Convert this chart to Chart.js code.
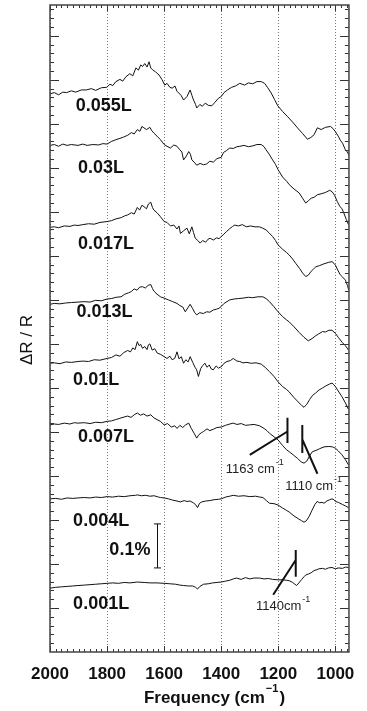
<!DOCTYPE html>
<html>
<head>
<meta charset="utf-8">
<script src="https://cdn.jsdelivr.net/npm/chart.js@4.4.0/dist/chart.umd.min.js"></script>
<style>
  html, body { margin: 0; padding: 0; background: #fff; }
  canvas { display: block; }
</style>
</head>
<body>
<canvas id="spectra" width="367" height="711" style="width:367px;height:711px"></canvas>
<script>
// exposures (Langmuir), top trace first
const exposures = ['0.055L', '0.03L', '0.017L', '0.013L', '0.01L', '0.007L', '0.004L', '0.001L'];

// vertical offset of each trace, in units of 0.01 % dR/R
const offsets = [126.8, 115.1, 96.5, 79.0, 65.6, 51.6, 34.8, 14.5];

// [wavenumber cm-1, dR/R change in 0.01 %]
const t055 = [[2000,0],[1985,0.3],[1970,-0.2],[1955,0.4],[1942,0.3],[1925,0.7],[1910,0.4],[1890,0.9],[1873,0.9],[1855,1.2],[1840,0.8],[1820,1.4],[1801,1.5],[1790,2.2],[1780,1.9],[1769,2.8],[1755,3.3],[1745,2.9],[1734,3.9],[1720,4.6],[1710,4.1],[1699,5.9],[1690,5.4],[1682,6.6],[1676,6.2],[1668,6.9],[1660,6.1],[1653,7.3],[1647,5.9],[1641,5.5],[1630,5.0],[1618,4.3],[1608,3.3],[1598,2.0],[1590,2.4],[1580,1.5],[1572,1.3],[1562,1.8],[1555,0.6],[1549,0.2],[1540,-0.4],[1532,-1.4],[1520,-0.6],[1509,0.9],[1503,-0.3],[1497,-1.4],[1490,-2.4],[1486,-3.2],[1475,-2.4],[1466,-2.8],[1456,-2.1],[1445,-2.6],[1433,-2.7],[1422,-1.9],[1410,-1.0],[1400,-0.6],[1390,0.3],[1378,0.9],[1364,1.5],[1350,1.8],[1335,2.4],[1318,2.0],[1305,2.5],[1290,2.3],[1275,2.8],[1260,2.8],[1248,2.4],[1237,1.4],[1225,0.2],[1213,-1.3],[1202,-2.7],[1185,-4.0],[1167,-5.2],[1150,-6.4],[1133,-7.7],[1115,-9.0],[1098,-10.3],[1086,-9.9],[1075,-9.3],[1063,-7.7],[1050,-8.1],[1035,-7.6],[1017,-7.4],[1008,-7.9],[1000,-8.6],[990,-9.6],[983,-10.5],[975,-11.2],[965,-12.7],[958,-13.2],[953,-13.9]];
const t03 = [[2000,0],[1985,0.2],[1970,-0.2],[1955,0.3],[1940,0],[1925,0.2],[1902,0],[1885,0.3],[1870,0],[1850,0.2],[1830,0.1],[1815,0.4],[1800,0.3],[1785,0.9],[1769,1.3],[1755,1.6],[1742,1.9],[1728,2.3],[1715,2.9],[1705,2.6],[1694,3.6],[1685,3.2],[1678,4.3],[1671,4.0],[1662,3.6],[1650,4.1],[1643,3.3],[1636,2.8],[1625,2.1],[1613,1.3],[1600,0.2],[1590,-0.2],[1578,-0.6],[1566,0.1],[1555,-0.2],[1545,-1.0],[1538,-1.5],[1532,-3.3],[1522,-2.4],[1514,-1.4],[1508,-2.0],[1503,-3.3],[1495,-3.8],[1486,-4.5],[1474,-4.1],[1462,-4.4],[1451,-4.2],[1440,-3.6],[1428,-3.8],[1415,-3.0],[1400,-2.7],[1392,-1.6],[1382,-1.2],[1370,-0.6],[1358,-0.7],[1345,-0.3],[1335,-0.2],[1320,0],[1305,-0.3],[1289,-0.1],[1275,0.2],[1260,0.2],[1250,-0.3],[1243,-1.0],[1232,-2.0],[1220,-3.3],[1210,-4.3],[1201,-5.5],[1185,-7.2],[1170,-8.2],[1162,-8.9],[1145,-9.9],[1127,-10.8],[1115,-12.0],[1104,-13.1],[1095,-12.6],[1085,-12.0],[1075,-11.8],[1063,-11.2],[1050,-11.0],[1035,-10.7],[1020,-10.2],[1012,-10.5],[1003,-11.3],[994,-12.7],[985,-13.8],[977,-14.4],[971,-15.3],[962,-16.8],[954,-18.0]];
const t017 = [[2000,0],[1985,0.1],[1970,-0.1],[1950,0.3],[1930,0.2],[1915,0.5],[1902,0.4],[1885,0.6],[1865,0.8],[1845,0.7],[1825,1.1],[1800,1.3],[1785,1.5],[1769,1.9],[1750,2.2],[1738,2.6],[1728,2.8],[1715,3.3],[1705,3.0],[1694,4.5],[1686,3.9],[1678,5.0],[1671,4.7],[1662,4.2],[1655,5.3],[1647,5.7],[1641,4.5],[1636,3.9],[1625,3.3],[1613,2.4],[1600,1.3],[1590,1.1],[1578,0.3],[1566,0.5],[1555,-0.4],[1548,0.3],[1543,-1.4],[1532,-0.8],[1520,-0.2],[1512,-1.5],[1503,0.1],[1497,-1.2],[1491,-2.5],[1482,-3.0],[1474,-3.6],[1465,-3.0],[1455,-3.4],[1446,-2.7],[1439,-2.5],[1428,-2.9],[1416,-2.4],[1408,-2.6],[1400,-2.1],[1391,-1.6],[1382,-1.0],[1370,-0.3],[1360,0.2],[1353,0.5],[1340,0.3],[1326,0.6],[1312,0.1],[1298,0.3],[1282,0.1],[1266,0.1],[1255,-0.2],[1243,-0.6],[1232,-1.3],[1220,-2.1],[1210,-3.0],[1201,-4.0],[1185,-5.0],[1172,-5.7],[1162,-6.3],[1150,-7.2],[1139,-8.2],[1125,-9.4],[1115,-10.4],[1104,-11.2],[1095,-10.9],[1085,-10.0],[1077,-9.5],[1069,-9.0],[1055,-8.7],[1040,-8.3],[1025,-8.0],[1012,-7.8],[1005,-8.2],[1000,-8.6],[992,-9.7],[983,-10.8],[975,-11.3],[965,-12.0],[958,-13.2],[953,-14.3]];
const t013 = [[2000,0],[1985,0.2],[1965,0.1],[1945,0.3],[1925,0.4],[1902,0.5],[1880,0.6],[1860,0.5],[1840,0.9],[1820,0.8],[1800,1.2],[1785,1.3],[1768,1.6],[1751,1.7],[1738,2.3],[1725,2.6],[1715,2.9],[1705,3.5],[1695,3.2],[1686,3.9],[1676,4.0],[1666,3.7],[1656,4.3],[1647,4.5],[1641,3.6],[1636,3.0],[1625,2.3],[1613,1.7],[1600,1.4],[1585,1.0],[1570,0.6],[1555,0.2],[1545,-0.3],[1535,-0.6],[1526,-1.7],[1517,-0.8],[1509,0],[1500,-1.0],[1493,-1.9],[1486,-2.4],[1475,-1.9],[1463,-2.1],[1451,-1.7],[1440,-1.8],[1428,-1.3],[1416,-1.1],[1408,-0.9],[1400,-0.5],[1390,0.2],[1380,0.6],[1370,1.0],[1355,1.2],[1340,1.3],[1324,1.4],[1305,1.6],[1290,1.5],[1272,1.7],[1254,1.7],[1243,1.3],[1231,0.6],[1216,-0.5],[1201,-1.7],[1185,-2.8],[1172,-3.5],[1162,-4.0],[1145,-5.1],[1127,-6.4],[1110,-7.5],[1095,-8.3],[1082,-7.8],[1070,-7.2],[1058,-6.7],[1045,-6.2],[1035,-6.3],[1023,-5.9],[1012,-5.9],[1000,-6.6],[990,-7.5],[977,-8.6],[965,-9.4],[954,-10.4]];
const t01 = [[2000,0],[1985,0.1],[1965,-0.1],[1945,0.3],[1925,0.2],[1902,0.4],[1885,0.5],[1865,0.4],[1845,0.8],[1825,0.7],[1800,1.1],[1785,1.3],[1769,1.9],[1755,1.6],[1742,2.4],[1728,2.9],[1718,2.6],[1710,3.5],[1702,3.1],[1694,4.9],[1688,4.0],[1682,4.3],[1676,3.4],[1668,3.8],[1660,3.1],[1655,4.2],[1650,4.4],[1642,3.0],[1633,3.3],[1624,2.3],[1612,2.0],[1600,1.5],[1590,1.1],[1580,1.6],[1572,0.8],[1563,1.1],[1555,2.6],[1548,1.0],[1540,1.5],[1532,0],[1524,0.8],[1516,0.3],[1509,1.5],[1500,0.2],[1492,-0.9],[1486,-1.5],[1480,-3.0],[1472,-1.2],[1465,-0.5],[1457,0],[1450,-0.9],[1442,-0.4],[1435,-1.3],[1428,-1.5],[1418,-0.6],[1410,-1.1],[1400,-0.8],[1390,0],[1380,0.4],[1368,0.6],[1358,1.1],[1345,0.5],[1335,0.4],[1324,0.1],[1310,0.2],[1295,0],[1278,0.1],[1260,-0.2],[1245,-1.0],[1231,-1.9],[1215,-3.0],[1201,-4.2],[1185,-5.3],[1172,-5.9],[1162,-6.5],[1145,-7.8],[1130,-8.8],[1118,-9.6],[1110,-10.0],[1100,-9.3],[1090,-8.2],[1080,-7.3],[1070,-6.8],[1058,-6.1],[1045,-5.6],[1035,-5.2],[1020,-4.7],[1012,-4.5],[1005,-4.9],[1000,-5.3],[990,-6.3],[977,-7.6],[965,-9.0],[954,-10.5]];
const t007 = [[2000,0],[1985,0.2],[1970,0.1],[1950,0.4],[1930,0.2],[1915,0.5],[1902,0.4],[1880,0.5],[1860,0.3],[1840,0.6],[1820,0.5],[1800,0.8],[1785,0.9],[1770,1.2],[1755,1.5],[1740,1.8],[1728,2.0],[1716,1.7],[1705,2.3],[1694,2.7],[1683,2.2],[1672,2.5],[1660,2.0],[1647,2.3],[1636,1.6],[1625,1.2],[1613,0.8],[1600,0],[1588,0.3],[1575,-0.5],[1563,-0.2],[1555,-0.8],[1545,-0.1],[1535,-0.6],[1525,0],[1514,0.4],[1505,-0.8],[1495,-1.9],[1486,-3.0],[1478,-2.2],[1470,-1.8],[1462,-1.5],[1450,-0.9],[1440,-1.3],[1428,-1.0],[1415,-0.6],[1400,-0.5],[1385,-0.1],[1370,0.2],[1358,0.4],[1345,0.1],[1330,0.3],[1315,-0.1],[1301,0],[1285,0.1],[1266,-0.2],[1250,-0.8],[1240,-1.3],[1231,-1.9],[1215,-2.7],[1201,-3.4],[1185,-4.7],[1172,-5.6],[1162,-6.1],[1148,-6.8],[1133,-7.6],[1120,-8.4],[1110,-8.7],[1100,-8.2],[1090,-7.0],[1081,-6.1],[1068,-5.8],[1055,-5.4],[1040,-5.0],[1023,-4.9],[1010,-5.0],[1000,-5.3],[990,-5.9],[977,-6.8],[965,-7.9],[954,-9.1]];
const t004 = [[2000,0],[1980,0.1],[1960,-0.1],[1940,0.2],[1920,0.1],[1902,0.2],[1880,0.3],[1860,0.2],[1840,0.4],[1820,0.3],[1800,0.5],[1780,0.4],[1760,0.6],[1740,0.5],[1720,0.7],[1700,0.8],[1694,0.9],[1680,0.7],[1665,0.8],[1650,0.6],[1635,0.7],[1620,0.4],[1613,0.3],[1600,0.2],[1585,0],[1570,-0.3],[1555,-0.5],[1543,-0.7],[1530,-0.4],[1520,-0.6],[1509,-0.5],[1498,-0.9],[1490,-1.3],[1483,-2.0],[1476,-1.0],[1468,-0.7],[1455,-0.5],[1440,-0.4],[1425,-0.2],[1410,-0.1],[1400,0],[1385,0.4],[1370,0.6],[1358,0.8],[1340,0.6],[1320,0.7],[1300,0.5],[1280,0.6],[1265,0.4],[1254,0.3],[1242,-0.4],[1231,-1.0],[1215,-1.1],[1201,-1.4],[1185,-2.1],[1172,-2.6],[1162,-3.0],[1145,-3.9],[1128,-4.6],[1118,-5.0],[1110,-5.3],[1102,-5.0],[1092,-4.0],[1082,-2.6],[1072,-1.3],[1064,-0.6],[1055,-0.9],[1047,-0.8],[1040,-1.0],[1030,-0.5],[1020,-0.2],[1012,0],[1005,-0.2],[1000,-0.6],[990,-0.8],[975,-1.3],[965,-1.6],[954,-2.0]];
const t001 = [[2000,0],[1980,0.2],[1960,0.3],[1940,0.4],[1920,0.5],[1902,0.6],[1880,0.7],[1860,0.8],[1840,0.9],[1820,1.0],[1800,1.1],[1780,1.2],[1760,1.1],[1740,1.3],[1720,1.2],[1694,1.4],[1670,1.3],[1650,1.2],[1625,1.2],[1600,1.1],[1580,1.0],[1560,0.9],[1545,0.7],[1532,0.6],[1515,0.5],[1500,0.5],[1490,0.2],[1483,-0.2],[1475,0.4],[1462,0.9],[1445,1.0],[1430,1.2],[1415,1.3],[1400,1.4],[1385,1.6],[1370,1.8],[1358,2.1],[1347,2.3],[1330,2.0],[1315,2.4],[1300,2.1],[1285,2.3],[1266,2.3],[1250,2.1],[1235,2.2],[1220,2.0],[1201,1.9],[1185,1.9],[1172,1.8],[1162,1.7],[1150,1.3],[1142,0.9],[1136,0.6],[1128,1.2],[1118,2.0],[1110,2.6],[1104,3.0],[1095,3.2],[1085,3.5],[1075,4.0],[1065,4.2],[1058,4.4],[1045,4.5],[1035,4.3],[1025,4.6],[1012,4.7],[1000,4.4],[990,4.6],[975,4.5],[965,4.8],[954,4.7]];
const traces = [t055, t03, t017, t013, t01, t007, t004, t001];

// where each exposure label sits (wavenumber, y)
const labelPos = [[1910,124.0],[1902,110.0],[1902,92.7],[1907,77.3],[1919,61.8],[1902,48.8],[1919,29.8],[1919,10.8]];

const xTicks = [2000, 1800, 1600, 1400, 1200, 1000];

// peak markers: [x1, y1, x2, y2]
const markerLines = [
  [1300, 44.8, 1168, 50.1], [1168, 53.2, 1168, 47.5],
  [1116, 51.6, 1116, 45.2], [1116, 48.3, 1063, 40.5],
  [1218, 13.0, 1139, 20.9], [1139, 23.2, 1139, 17.1]
];
const markerText = [['1163 cm', 1384, 41.4], ['1110 cm', 1176, 37.6], ['1140cm', 1278, 10.3]];

// 0.1 % scale bar
const scaleBar = { x: 1624, y0: 19.1, y1: 29.1, text: '0.1%', tx: 1792, ty: 23.2 };

const FONT = "'Liberation Sans', Arial, Helvetica, sans-serif";

function drawSup(ctx, text, sup, x, y, size, supSize, weight) {
  ctx.font = `${weight} ${size}px ${FONT}`;
  ctx.fillText(text, x, y);
  const w = ctx.measureText(text).width;
  ctx.font = `${weight} ${supSize}px ${FONT}`;
  ctx.fillText(sup, x + w + 1, y - size * 0.55);
  return w + 1 + ctx.measureText(sup).width;
}

const decor = {
  id: 'decor',
  afterDatasetsDraw(chart) {
    const { ctx, chartArea: a, scales: { x, y } } = chart;
    ctx.save();

    // inward ticks on all four sides
    ctx.strokeStyle = '#333';
    ctx.lineWidth = 1;
    ctx.beginPath();
    for (let w = 2000; w >= 960; w -= 20) {
      const px = Math.round(x.getPixelForValue(w)) + 0.5;
      const len = w % 200 === 0 ? 6 : 3;
      ctx.moveTo(px, a.bottom); ctx.lineTo(px, a.bottom - len);
      ctx.moveTo(px, a.top); ctx.lineTo(px, a.top + len);
    }
    for (let v = 2; v < 147; v += 2) {
      const py = Math.round(y.getPixelForValue(v)) + 0.5;
      const len = v % 10 === 0 ? 9 : 4;
      ctx.moveTo(a.left, py); ctx.lineTo(a.left + len, py);
      ctx.moveTo(a.right, py); ctx.lineTo(a.right - len, py);
    }
    ctx.stroke();

    ctx.strokeStyle = '#444';
    ctx.lineWidth = 1.5;
    ctx.strokeRect(a.left, a.top, a.right - a.left, a.bottom - a.top);

    // exposure labels
    ctx.fillStyle = '#111';
    ctx.textBaseline = 'middle';
    ctx.textAlign = 'left';
    ctx.font = `bold 18px ${FONT}`;
    exposures.forEach((lab, i) => {
      ctx.fillText(lab, x.getPixelForValue(labelPos[i][0]), y.getPixelForValue(labelPos[i][1]));
    });

    // scale bar
    const bx = Math.round(x.getPixelForValue(scaleBar.x)) + 0.5;
    const by0 = y.getPixelForValue(scaleBar.y0), by1 = y.getPixelForValue(scaleBar.y1);
    ctx.strokeStyle = '#111';
    ctx.lineWidth = 1;
    ctx.beginPath();
    ctx.moveTo(bx, by0); ctx.lineTo(bx, by1);
    ctx.moveTo(bx - 3.5, by0); ctx.lineTo(bx + 3.5, by0);
    ctx.moveTo(bx - 3.5, by1); ctx.lineTo(bx + 3.5, by1);
    ctx.stroke();
    ctx.fillText(scaleBar.text, x.getPixelForValue(scaleBar.tx), y.getPixelForValue(scaleBar.ty));

    // peak markers
    ctx.lineWidth = 2;
    ctx.beginPath();
    markerLines.forEach(([x1, y1, x2, y2]) => {
      ctx.moveTo(x.getPixelForValue(x1), y.getPixelForValue(y1));
      ctx.lineTo(x.getPixelForValue(x2), y.getPixelForValue(y2));
    });
    ctx.stroke();
    ctx.fillStyle = '#222';
    markerText.forEach(([t, wx, wy]) => {
      drawSup(ctx, t, '-1', x.getPixelForValue(wx), y.getPixelForValue(wy), 13, 9, 'normal');
    });

    // axis titles
    ctx.fillStyle = '#111';
    ctx.font = `bold 17px ${FONT}`;
    const main = 'Frequency (cm';
    const mw = ctx.measureText(main).width;
    ctx.font = `bold 11px ${FONT}`;
    const sw = ctx.measureText('\u22121').width;
    ctx.font = `bold 17px ${FONT}`;
    const pw = ctx.measureText(')').width;
    let sx = (a.left + a.right) / 2 + 15 - (mw + sw + pw + 2) / 2;
    const ty = 698;
    const used = drawSup(ctx, main, '\u22121', sx, ty, 17, 11, 'bold');
    ctx.font = `bold 17px ${FONT}`;
    ctx.fillText(')', sx + used + 1, ty);

    ctx.translate(27, 340);
    ctx.rotate(-Math.PI / 2);
    ctx.textAlign = 'center';
    ctx.font = `17px ${FONT}`;
    ctx.fillText('\u0394R / R', 0, 0);
    ctx.restore();
  }
};

new Chart(document.getElementById('spectra'), {
  type: 'line',
  data: {
    datasets: traces.map((tr, i) => ({
      label: exposures[i],
      data: tr.map(([w, d]) => ({ x: w, y: d + offsets[i] })),
      borderColor: '#111',
      borderWidth: 1,
      pointRadius: 0,
      tension: 0,
      fill: false
    }))
  },
  options: {
    responsive: false,
    animation: false,
    events: [],
    layout: { padding: { left: 50, right: 15, top: 5, bottom: 0 } },
    plugins: { legend: { display: false }, tooltip: { enabled: false } },
    scales: {
      x: {
        type: 'linear',
        reverse: true,
        min: 952.5,
        max: 2000,
        afterBuildTicks: (s) => { s.ticks = xTicks.map(v => ({ value: v })); },
        afterFit: (s) => { s.height = 59; },
        grid: { color: '#777', lineWidth: 1, drawTicks: false },
        border: { display: false, dash: [1, 2] },
        ticks: {
          color: '#111',
          padding: 12,
          maxRotation: 0,
          autoSkip: false,
          callback: (v) => String(v),
          font: { family: FONT, size: 17, weight: 'bold' }
        }
      },
      y: {
        display: false,
        min: 0,
        max: 147
      }
    }
  },
  plugins: [decor]
});
</script>
</body>
</html>
